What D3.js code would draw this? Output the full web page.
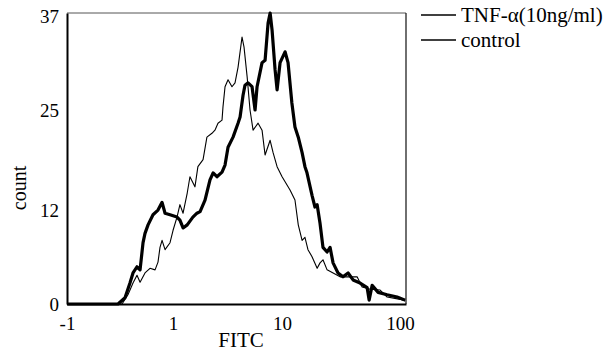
<!DOCTYPE html>
<html>
<head>
<meta charset="utf-8">
<script src="https://cdn.jsdelivr.net/npm/d3@7"></script>
<style>
  body { margin: 0; background: #fff; }
  svg { display: block; font-family: "Liberation Serif", "Times New Roman", serif; }
</style>
</head>
<body>
<svg id="chart" width="609" height="353"></svg>
<script>
// FITC histogram, TNF-alpha treated vs control
const tnfFitc = [0.1, 0.288, 0.333, 0.369, 0.393, 0.427, 0.455, 0.484, 0.504, 0.537, 0.595, 0.66, 0.718, 0.764, 0.847, 0.979, 1.04, 1.11, 1.21, 1.36, 1.48, 1.58, 1.75, 1.94, 2.07, 2.24, 2.49, 2.65, 2.82, 3.13, 3.47, 3.62, 3.85, 4.01, 4.27, 4.64, 4.94, 5.15, 5.71, 6.08, 6.47, 6.75, 7.03, 7.48, 7.8, 8.3, 9.2, 9.79, 10.6, 11.3, 12.1, 13.1, 13.9, 14.5, 16.1, 17.1, 17.9, 19.0, 20.2, 22.0, 23.4, 24.9, 27.6, 30.6, 34.0, 37.7, 43.6, 50.5, 52.6, 56.0, 63.4, 76.4, 94.0, 111];
const tnfCount = [0, 0, 0.8, 2.7, 4.0, 4.8, 4.4, 7.9, 9.1, 10.2, 11.5, 12.1, 13.1, 11.7, 11.5, 11.2, 10.8, 9.8, 10.2, 11.2, 11.7, 11.9, 13.4, 16.0, 16.9, 16.4, 17.0, 17.9, 20.2, 21.5, 23.3, 24.1, 26.9, 28.2, 28.5, 28.0, 25.0, 28.0, 31.1, 31.4, 36.2, 37.5, 35.3, 30.2, 27.6, 31.1, 32.5, 31.1, 25.9, 22.8, 21.5, 19.5, 17.7, 16.9, 14.0, 12.5, 12.8, 10.4, 7.3, 6.7, 7.3, 5.3, 4.0, 3.5, 4.0, 3.1, 2.7, 2.1, 0.5, 2.4, 1.5, 1.2, 0.9, 0.5];

const ctlFitc = [0.1, 0.313, 0.354, 0.393, 0.427, 0.455, 0.504, 0.559, 0.621, 0.66, 0.688, 0.718, 0.764, 0.847, 0.902, 0.979, 1.04, 1.11, 1.21, 1.28, 1.42, 1.51, 1.68, 1.82, 2.02, 2.15, 2.29, 2.49, 2.54, 2.65, 2.82, 3.06, 3.26, 3.47, 3.77, 3.93, 4.19, 4.45, 4.74, 5.26, 5.71, 6.08, 6.75, 7.18, 7.8, 8.65, 10.2, 11.3, 12.1, 13.1, 13.9, 14.8, 16.1, 17.9, 19.0, 20.2, 22.0, 28.8, 41.0, 45.5, 53.7, 66.1, 76.4, 100, 111];
const ctlCount = [0, 0, 1.2, 2.7, 3.7, 2.8, 4.0, 4.6, 4.4, 5.4, 7.3, 8.2, 7.0, 7.9, 9.5, 11.2, 12.8, 11.7, 14.3, 16.4, 15.1, 17.7, 18.6, 21.5, 22.0, 22.4, 23.3, 23.7, 25.4, 28.0, 28.9, 28.0, 28.5, 30.5, 34.4, 33.1, 29.3, 25.0, 22.4, 23.3, 22.4, 19.2, 21.1, 19.5, 17.7, 16.4, 14.7, 13.4, 10.2, 8.2, 8.6, 7.0, 6.1, 4.6, 5.3, 5.7, 4.4, 3.5, 3.5, 2.2, 1.9, 1.8, 0.9, 0.6, 0.4];

const xTickValues = [0.1, 1, 10, 100];
const xTickLabels = ["-1", "1", "10", "100"];
const yTickValues = [0, 12, 25, 37];
const seriesNames = ["TNF-\u03b1(10ng/ml)", "control"];

const svg = d3.select("#chart");
const plotLeft = 67, plotRight = 406, plotTop = 13, plotBottom = 304;

const x = d3.scaleLog().domain([0.1, 113]).range([plotLeft, plotRight]);
const y = d3.scaleLinear().domain([0, 37.5]).range([plotBottom, plotTop]);

// frame (top + right edges, thin)
svg.append("line").attr("x1", plotLeft).attr("x2", plotRight).attr("y1", plotTop).attr("y2", plotTop)
  .attr("stroke", "#555").attr("stroke-width", 1);
svg.append("line").attr("x1", plotRight).attr("x2", plotRight).attr("y1", plotTop).attr("y2", plotBottom)
  .attr("stroke", "#222").attr("stroke-width", 1.3);

const line = d3.line().x(d => x(d[0])).y(d => y(d[1]));

const ctl = ctlFitc.map((v, i) => [v, ctlCount[i]]);
const tnf = tnfFitc.map((v, i) => [v, tnfCount[i]]);

svg.append("path").datum(ctl).attr("d", line)
  .attr("fill", "none").attr("stroke", "#000").attr("stroke-width", 1.1)
  .attr("stroke-linejoin", "round");
svg.append("path").datum(tnf).attr("d", line)
  .attr("fill", "none").attr("stroke", "#000").attr("stroke-width", 3.2)
  .attr("stroke-linejoin", "round");

// axes
const xAxis = svg.append("g").attr("transform", `translate(0,${plotBottom})`)
  .call(d3.axisBottom(x).tickValues(xTickValues).tickFormat((d, i) => xTickLabels[i]).tickSize(0).tickPadding(13));
xAxis.select(".domain").attr("stroke", "#000").attr("stroke-width", 2.2);
// printed labels sit a few px left of the decades in the original
const labelShift = [0, -5, -7, 0];
xAxis.selectAll("text").attr("font-size", 19).attr("font-family", "Liberation Serif").attr("fill", "#000")
  .attr("dx", (d, i) => labelShift[i]);

const yAxis = svg.append("g").attr("transform", `translate(${plotLeft},0)`)
  .call(d3.axisLeft(y).tickValues(yTickValues).tickSize(0).tickPadding(8));
yAxis.select(".domain").attr("stroke", "#000").attr("stroke-width", 2);
yAxis.selectAll("text").attr("font-size", 19).attr("font-family", "Liberation Serif").attr("fill", "#000");

// axis titles
svg.append("text").attr("x", 241).attr("y", 347).attr("text-anchor", "middle")
  .attr("font-size", 21).text("FITC");
svg.append("text").attr("transform", "translate(26,188) rotate(-90)").attr("text-anchor", "middle")
  .attr("font-size", 20).text("count");

// legend
const legend = svg.append("g");
seriesNames.forEach((name, i) => {
  const ly = 15 + i * 25;
  legend.append("line").attr("x1", 421).attr("x2", 456).attr("y1", ly).attr("y2", ly)
    .attr("stroke", "#000").attr("stroke-width", 1.5);
  legend.append("text").attr("x", 461).attr("y", ly + 7).attr("font-size", 21).text(name);
});
</script>
</body>
</html>
